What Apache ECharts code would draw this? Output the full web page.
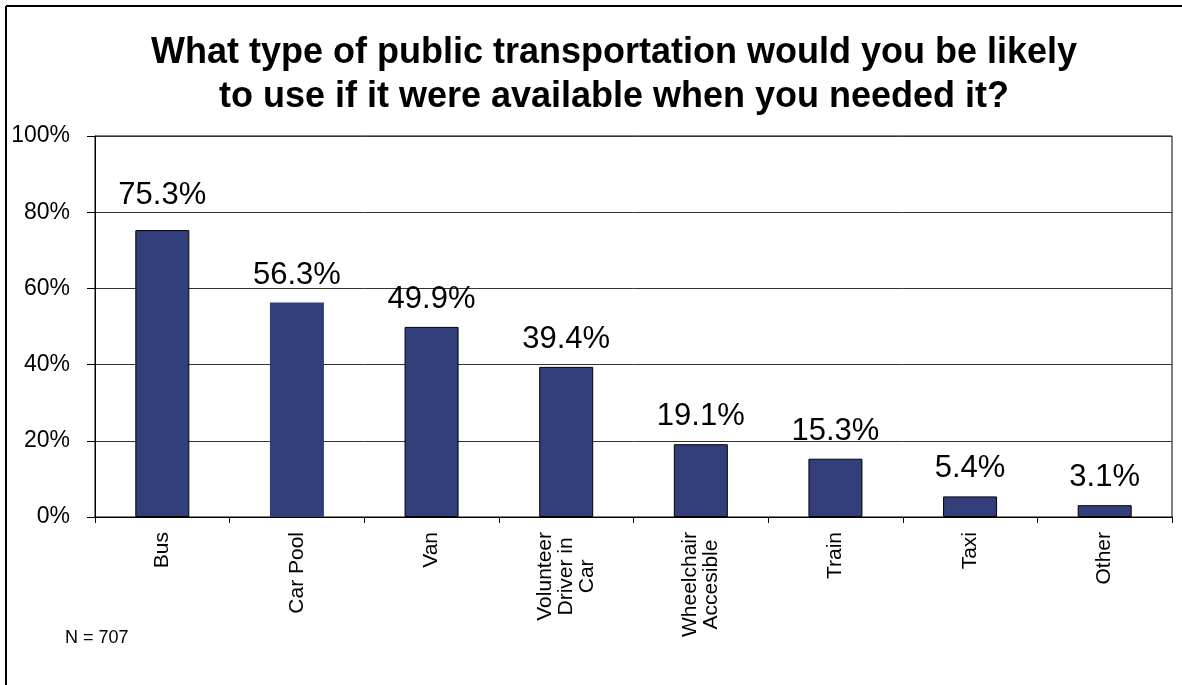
<!DOCTYPE html>
<html>
<head>
<meta charset="utf-8">
<style>
  html, body { margin: 0; padding: 0; background: #fff; }
  #chart { width: 1182px; height: 685px; }
</style>
<script src="https://cdn.jsdelivr.net/npm/echarts@6/dist/echarts.min.js"></script>
</head>
<body>
<div id="chart"></div>
<script>
// Survey answers: likely use of each transport type (percent of respondents)
const categories = ['Bus', 'Car Pool', 'Van', 'Volunteer\nDriver in\nCar', 'Wheelchair\nAccesible', 'Train', 'Taxi', 'Other'];
const shares = [75.3, 56.3, 49.9, 39.4, 19.1, 15.3, 5.4, 3.1];
const yTicks = [0, 20, 40, 60, 80, 100];
const titleLines = ['What type of public transportation would you be likely', 'to use if it were available when you needed it?'];
const sampleNote = 'N = 707';

const FONT = '"Liberation Sans", Arial, sans-serif';
const BAR = '#323F7A';

const chart = echarts.init(document.getElementById('chart'), null, { renderer: 'canvas' });

const barData = shares.map((v, i) => {
  const item = { value: v };
  if (i === 1) item.itemStyle = { borderWidth: 0 };   // car pool bar drawn without outline
  if (i === 0) item.label = { distance: 19 };         // tallest bar's label sits a little higher
  return item;
});

chart.setOption({
  animation: false,
  backgroundColor: '#fff',
  grid: {
    left: 95, right: 10, top: 136, bottom: 168,
    show: true, borderColor: '#000', borderWidth: 1, backgroundColor: 'transparent'
  },
  xAxis: {
    type: 'category',
    data: categories,
    axisLine: { lineStyle: { color: '#000', width: 1 } },
    axisTick: { show: true, length: 6, lineStyle: { color: '#000' } },
    axisLabel: {
      rotate: 90,
      interval: 0,
      margin: 15,
      color: '#000',
      fontFamily: FONT,
      fontSize: 21,
      lineHeight: 21,
      formatter: (val) => val.indexOf('\n') < 0 ? val :
        val.split('\n').map(s => '{c|' + s + '}').join('\n'),
      rich: {
        c: { align: 'center', fontFamily: FONT, fontSize: 21, lineHeight: 21, color: '#000' }
      }
    }
  },
  yAxis: {
    type: 'value',
    min: yTicks[0],
    max: yTicks[yTicks.length - 1],
    interval: yTicks[1] - yTicks[0],
    axisLine: { show: true, lineStyle: { color: '#000', width: 1 } },
    axisTick: { show: true, inside: false, length: 8, lineStyle: { color: '#000' } },
    splitLine: { show: true, lineStyle: { color: '#333', width: 1 } },
    axisLabel: {
      margin: 25,
      color: '#000',
      fontFamily: FONT,
      fontSize: 23,
      formatter: '{value}%'
    }
  },
  series: [{
    type: 'bar',
    data: barData,
    barWidth: 54,
    itemStyle: { color: BAR, borderColor: '#000', borderWidth: 1 },
    label: {
      show: true,
      position: 'top',
      distance: 12,
      color: '#000',
      fontFamily: FONT,
      fontSize: 31,
      formatter: (p) => p.value.toFixed(1) + '%'
    }
  }],
  graphic: [
    { type: 'line', shape: { x1: 6, y1: 6, x2: 1182, y2: 6 }, style: { stroke: '#000', lineWidth: 2 } },
    { type: 'line', shape: { x1: 6, y1: 6, x2: 6, y2: 685 }, style: { stroke: '#000', lineWidth: 2 } },
    {
      type: 'text', x: 614, y: 31,
      style: {
        text: titleLines.join('\n'), textAlign: 'center', textVerticalAlign: 'top',
        fontFamily: FONT, fontWeight: 'bold', fontSize: 36, lineHeight: 44, fill: '#000'
      }
    },
    {
      type: 'text', x: 65, y: 638,
      style: {
        text: sampleNote, textAlign: 'left', textVerticalAlign: 'middle',
        fontFamily: FONT, fontSize: 18, fill: '#000'
      }
    }
  ]
});
</script>
</body>
</html>
